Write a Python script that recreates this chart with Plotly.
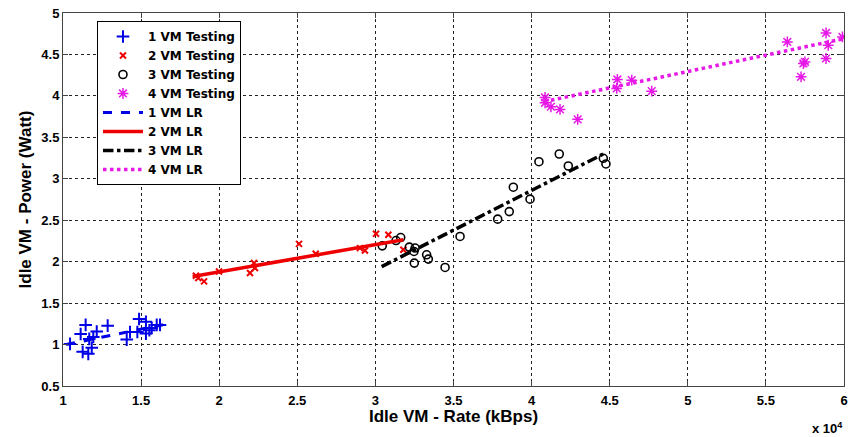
import plotly.graph_objects as go

# ---- data (x in units of 10^4 kBps) ----
vm1_x = [1.045, 1.113, 1.145, 1.126, 1.162, 1.184, 1.168, 1.216, 1.194, 1.286, 1.408, 1.429,
         1.487, 1.531, 1.476, 1.531, 1.568, 1.600, 1.621, 1.553]
vm1_y = [1.008, 1.128, 1.237, 0.912, 0.888, 0.960, 1.068, 1.156, 1.092, 1.228, 1.060, 1.152,
         1.309, 1.276, 1.152, 1.132, 1.200, 1.237, 1.237, 1.172]

vm2_x = [1.851, 1.866, 1.903, 1.999, 2.197, 2.223, 2.229, 2.511, 2.618, 2.901, 2.933, 3.004,
         3.083, 3.179]
vm2_y = [1.830, 1.802, 1.762, 1.882, 1.863, 1.983, 1.923, 2.215, 2.095, 2.163, 2.135, 2.336,
         2.324, 2.143]

vm3_x = [3.044, 3.162, 3.132, 3.217, 3.254, 3.247, 3.328, 3.339, 3.249, 3.446, 3.542, 3.783,
         3.857, 3.883, 3.990, 4.047, 4.177, 4.235, 4.459, 4.476]
vm3_y = [2.191, 2.291, 2.255, 2.176, 2.164, 2.123, 2.083, 2.031, 1.983, 1.930, 2.304, 2.513,
         2.604, 2.898, 2.754, 3.206, 3.299, 3.154, 3.247, 3.179]

vm4_x = [4.086, 4.086, 4.124, 4.182, 4.295, 4.549, 4.641, 4.545, 4.769, 5.637, 5.750, 5.740,
         5.725, 5.885, 5.885, 5.990, 5.899]
vm4_y = [3.981, 3.917, 3.869, 3.837, 3.717, 4.198, 4.190, 4.090, 4.057, 4.651, 4.410, 4.391,
         4.230, 4.759, 4.451, 4.711, 4.611]

lr1_x = [1.02, 1.64]
lr1_y = [1.00, 1.24]
lr2_x = [1.83, 3.18]
lr2_y = [1.82, 2.265]
lr3_x = [3.04, 4.46]
lr3_y = [1.94, 3.30]
lr4_x = [4.08, 6.00]
lr4_y = [3.93, 4.69]

x_ticks = [1, 1.5, 2, 2.5, 3, 3.5, 4, 4.5, 5, 5.5, 6]
y_ticks = [0.5, 1, 1.5, 2, 2.5, 3, 3.5, 4, 4.5, 5]

BLUE = "#0000e6"
RED = "#ee0000"
BLACK = "#000000"
MAGENTA = "#e619e6"
FONT = "Liberation Sans, Arial"

fig = go.Figure()

fig.add_trace(go.Scatter(x=vm1_x, y=vm1_y, mode="markers", name="1 VM Testing",
                         marker=dict(symbol="cross-thin", size=9, color=BLUE,
                                     line=dict(color=BLUE, width=2))))
fig.add_trace(go.Scatter(x=vm2_x, y=vm2_y, mode="markers", name="2 VM Testing",
                         marker=dict(symbol="x-thin", size=6, color=RED,
                                     line=dict(color=RED, width=2))))
fig.add_trace(go.Scatter(x=vm3_x, y=vm3_y, mode="markers", name="3 VM Testing",
                         marker=dict(symbol="circle-open", size=8, color=BLACK,
                                     line=dict(color=BLACK, width=1.6))))
fig.add_trace(go.Scatter(x=vm4_x, y=vm4_y, mode="markers", name="4 VM Testing",
                         marker=dict(symbol="asterisk-open", size=9, color=MAGENTA,
                                     line=dict(color=MAGENTA, width=1.5))))

fig.add_trace(go.Scatter(x=lr1_x, y=lr1_y, mode="lines", name="1 VM LR",
                         line=dict(color=BLUE, width=3, dash="dash")))
fig.add_trace(go.Scatter(x=lr2_x, y=lr2_y, mode="lines", name="2 VM LR",
                         line=dict(color=RED, width=3.5)))
fig.add_trace(go.Scatter(x=lr3_x, y=lr3_y, mode="lines", name="3 VM LR",
                         line=dict(color=BLACK, width=3.5, dash="dashdot")))
fig.add_trace(go.Scatter(x=lr4_x, y=lr4_y, mode="lines", name="4 VM LR",
                         line=dict(color=MAGENTA, width=3.5, dash="dot")))

axis_common = dict(
    showline=True, linecolor="#444444", linewidth=1, mirror="ticks",
    ticks="inside", ticklen=5, tickcolor="#444444",
    showgrid=True, gridcolor="#222222", gridwidth=1, griddash="dot",
    zeroline=False, automargin=False, ticklabeloverflow="allow",
    tickfont=dict(size=13, color="#000000", family=FONT, weight="bold"),
)

fig.update_xaxes(range=[1, 6], tickvals=x_ticks, ticktext=[f"{v:g}" for v in x_ticks],
                 ticklabelstandoff=2, **axis_common)
fig.update_yaxes(range=[0.5, 5], tickvals=y_ticks, ticktext=[f"{v:g}" for v in y_ticks],
                 **axis_common)

title_font = dict(size=17, family=FONT, weight="bold", color="#000000")

fig.update_layout(
    width=848, height=437,
    margin=dict(l=63, r=4, t=13, b=51, autoexpand=False),
    plot_bgcolor="white", paper_bgcolor="white",
    font=dict(family=FONT, size=12, color="#000000", weight="bold"),
    legend=dict(x=0.0435, y=0.9786, xanchor="left", yanchor="top",
                bgcolor="white", bordercolor="#000000", borderwidth=1,
                font=dict(size=12, family="DejaVu Sans", weight="bold"),
                tracegroupgap=0, itemwidth=40),
    showlegend=True,
    annotations=[
        dict(text="Idle VM - Rate (kBps)", x=0.5, y=-0.083, xref="paper", yref="paper",
             xanchor="center", yanchor="middle", showarrow=False, font=title_font),
        dict(text="Idle VM - Power (Watt)", x=-0.0474, y=0.5, xref="paper", yref="paper",
             xanchor="center", yanchor="middle", textangle=-90, showarrow=False,
             font=title_font),
        dict(text="x 10<sup>4</sup>", x=1.0013, y=-0.1126, xref="paper", yref="paper",
             xanchor="right", yanchor="middle", showarrow=False,
             font=dict(size=13, family=FONT, weight="bold")),
    ],
)

fig.write_html("out.html",
               config={"displayModeBar": False},
               post_script="document.body.style.margin='0';document.body.style.overflow='hidden';")
